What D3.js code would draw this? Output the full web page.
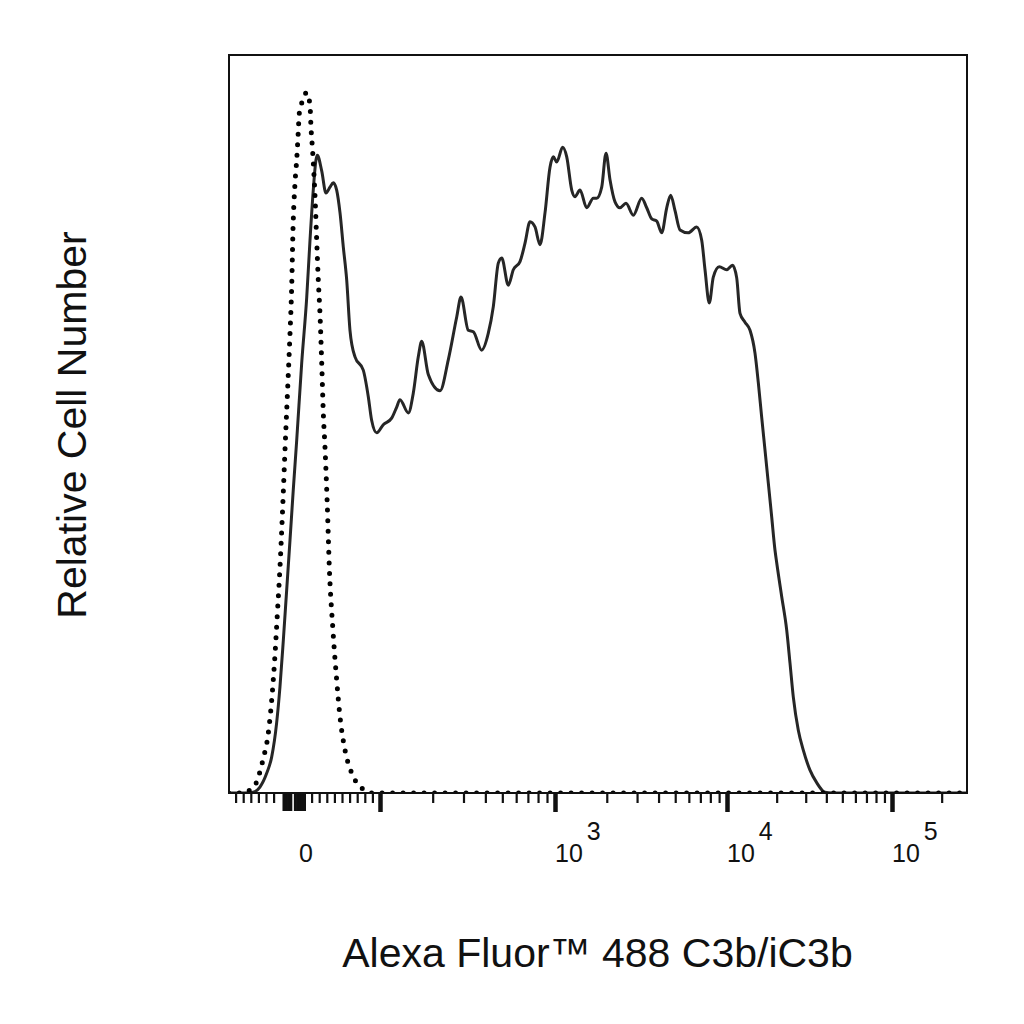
<!DOCTYPE html>
<html>
<head>
<meta charset="utf-8">
<script src="https://cdn.jsdelivr.net/npm/d3@7"></script>
<style>
  body { margin: 0; background: #fff; }
  text { font-family: "Liberation Sans", Arial, sans-serif; fill: #111; }
</style>
</head>
<body>
<div id="chart"></div>
<script>
// isotype control (dotted)
var dottedX = [-99, -84, -67, -60, -54, -47, -42.5, -38, -35, -31.6, -28, -25, -21, -18.4, -16.2, -14.5, -11.8, -9.6, -7.9, -6.2, -3, 3.6,
    7.9, 9.2, 11.4, 14.5, 16.7, 18.8, 21, 23.3, 25.4, 27.6, 30.7, 33.3, 37.8, 43, 47.4, 54, 62.8, 69.3, 78, 89.5, 285000];
var dottedCount = [0, 0, 0.7, 2.2, 4.5, 8.1, 12.6, 19.0, 24.4, 30.6, 38.8, 46.5, 56.0, 62.3, 68.6, 76.3, 82.7, 85.8, 88.9, 92.1, 93.5, 94.9,
    93.2, 90.2, 86.9, 80.8, 74.9, 69.5, 65.0, 58.3, 51.5, 46.9, 38.8, 30.6, 22.5, 15.3, 10.3, 5.8, 2.7, 1.4, 0.5, 0, 0];

// C3b/iC3b stained (solid)
var solidX = [-99, -78, -67, -58, -49, -42.5, -36, -31.6, -27.2, -22.8, -18.4, -14.1, -9.6, -3, 3.6, 7.9, 12.2, 15.8, 17.5,
    23.3, 28.9, 34.2, 38.6, 43, 47.4, 51.7, 56.2, 60.5, 67.1, 78, 84.6, 89, 95.7, 104.4, 116.6, 124.6, 130.1, 145.1, 155,
    165.5, 173.1, 188.8, 220.2, 245.6, 274.4, 290.3, 319.6, 341.3, 381.1, 415.8, 444.1, 474.3, 496, 541, 577.7, 631, 674,
    719.7, 768.6, 820.9, 876.7, 936.3, 977.9, 1023, 1108, 1170, 1251, 1307, 1397, 1529, 1670, 1748, 1869, 1980, 2088,
    2233, 2387, 2587, 2853, 3192, 3413, 3650, 3903, 4173, 4462, 4706, 4986, 5331, 5957, 6665, 7127, 7450, 7889, 8324,
    9020, 9960, 10800, 11450, 11990, 12850, 13790, 14780, 15480, 16230, 16990, 17800, 18660, 19540, 20010, 21460, 23000,
    24090, 25230, 27050, 29000, 31840, 34960, 39260, 43290, 285000];
var solidCount = [0, 0, 0.1, 0.8, 2.7, 4.9, 9.5, 14.4, 20.7, 27.5, 34.3, 41.1, 47.8, 58.3, 67.2, 74.9, 81.7, 85.8, 86.4,
    84.3, 81.3, 82.1, 82.7, 81.7, 78.6, 74.0, 69.5, 62.7, 59.1, 57.3, 53.7, 50.5, 48.8, 49.9, 50.8, 52.3, 53.3, 51.5, 54.2,
    59.1, 61.2, 56.7, 54.5, 58.7, 64.5, 67.2, 62.7, 62.5, 60.0, 62.3, 65.9, 71.8, 72.5, 68.8, 70.9, 72.0, 74.5,
    77.4, 76.7, 74.3, 78.6, 84.8, 86.2, 85.5, 87.5, 86.2, 81.7, 80.8, 81.7, 79.3, 80.6, 80.6, 82.1, 86.7, 83.1,
    80.1, 79.3, 79.9, 78.3, 80.6, 79.3, 77.8, 77.5, 75.9, 79.3, 81.0, 78.9, 76.3, 75.9, 76.7, 74.9, 70.9, 66.4, 69.9,
    71.3, 70.9, 71.5, 69.8, 65.0, 63.8, 62.7, 59.6, 55.6, 50.9, 46.5, 42.0, 37.4, 32.9, 31.2, 26.6, 22.1,
    17.6, 13.0, 8.5, 5.8, 3.1, 1.4, 0.1, 0, 0];

// axis ticks
var majorTicks = [100, 1000, 10000, 100000];
var zeroTicks = [-27, -24, -21, -18, -12, -9, -6, -3, 0];
var minorTicks = [-90, -80, -70, -60, -50, -40, 10, 20, 30, 40, 50, 60, 70, 80, 90,
    200, 300, 400, 500, 600, 700, 800, 900, 2000, 3000, 4000, 5000, 6000, 7000, 8000, 9000,
    20000, 30000, 40000, 50000, 60000, 70000, 80000, 90000, 200000];
var tickLabels = [{v: 0, base: "0", exp: ""}, {v: 1000, base: "10", exp: "3"},
    {v: 10000, base: "10", exp: "4"}, {v: 100000, base: "10", exp: "5"}];

var xTitle = "Alexa Fluor™ 488 C3b/iC3b";
var yTitle = "Relative Cell Number";

var margin = {top: 55, right: 57, bottom: 231, left: 229},
    width = 1024 - margin.left - margin.right,
    height = 1024 - margin.top - margin.bottom;

var svg = d3.select("#chart")
    .append("svg")
    .attr("width", 1024)
    .attr("height", 1024)
    .append("g")
    .attr("transform", "translate(" + margin.left + "," + margin.top + ")");

// biexponential-like display: linear below 100, log decades above
function toDisplay(v) {
    var a = Math.abs(v);
    if (a <= 100) return v / 100;
    return Math.sign(v) * (1 + Math.log10(a / 100));
}
var xLin = d3.scaleLinear()
    .domain([-1, 0, 1, 2, 3, 4, 5])
    .range([-1, 75, 151, 326, 498, 663, 828]);
var x = function (v) { return xLin(toDisplay(v)); };

var y = d3.scaleLinear()
    .domain([0, 100])
    .range([height, 0]);

svg.append("clipPath").attr("id", "plot-clip")
    .append("rect")
    .attr("x", 0).attr("y", -5)
    .attr("width", width).attr("height", height + 5);

var line = d3.line()
    .x(function (d) { return x(d[0]); })
    .y(function (d) { return y(d[1]); })
    .curve(d3.curveMonotoneX);

var dotted = d3.zip(dottedX, dottedCount);
var solid = d3.zip(solidX, solidCount);

svg.append("path")
    .datum(solid)
    .attr("clip-path", "url(#plot-clip)")
    .attr("d", line)
    .style("fill", "none")
    .style("stroke", "#262626")
    .style("stroke-width", 3);

svg.append("path")
    .datum(dotted)
    .attr("clip-path", "url(#plot-clip)")
    .attr("d", line)
    .style("fill", "none")
    .style("stroke", "#000")
    .style("stroke-width", 5)
    .style("stroke-linecap", "round")
    .style("stroke-dasharray", "0 10.5");

// ticks
function tickAxis(values, size, w) {
    var g = svg.append("g")
        .attr("transform", "translate(0," + height + ")")
        .call(d3.axisBottom(xLin)
            .tickValues(values.map(toDisplay))
            .tickSize(size)
            .tickFormat(""));
    g.select(".domain").remove();
    g.selectAll(".tick line")
        .style("stroke", "#111")
        .style("stroke-width", w);
}
tickAxis(minorTicks, 10, 2.2);
tickAxis(zeroTicks, 18, 3);
tickAxis(majorTicks, 19, 4.5);

// frame
svg.append("rect")
    .attr("x", 0).attr("y", 0)
    .attr("width", width).attr("height", height)
    .style("fill", "none")
    .style("stroke", "#111")
    .style("stroke-width", 2);

// tick labels
var labels = svg.selectAll(".xlabel")
    .data(tickLabels)
    .enter()
    .append("text")
    .attr("class", "xlabel")
    .attr("y", height + 69)
    .attr("x", function (d) { return d.exp ? x(d.v) : x(d.v) + 2; })
    .attr("text-anchor", function (d) { return d.exp ? "start" : "middle"; })
    .style("font-size", "25px");
labels.append("tspan").text(function (d) { return d.base; });
labels.append("tspan")
    .attr("dx", 4)
    .attr("dy", -22)
    .text(function (d) { return d.exp; });

svg.append("text")
    .attr("x", 368.5)
    .attr("y", height + 174)
    .attr("text-anchor", "middle")
    .style("font-size", "41px")
    .text(xTitle);

svg.append("text")
    .attr("transform", "translate(-143," + (425 - margin.top) + ") rotate(-90)")
    .attr("text-anchor", "middle")
    .style("font-size", "41px")
    .text(yTitle);
</script>
</body>
</html>
